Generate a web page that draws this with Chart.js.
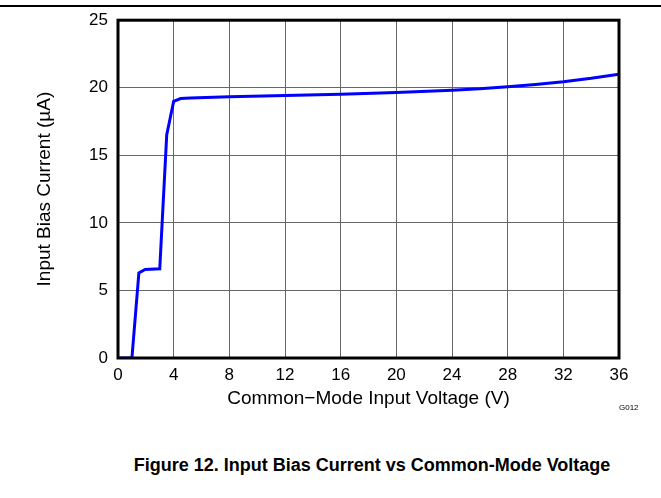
<!DOCTYPE html>
<html lang="en">
<head>
  <meta charset="UTF-8" />
  <title>Input Bias Current vs Common-Mode Voltage</title>
  <script src="https://cdn.jsdelivr.net/npm/chart.js"></script>
  <style>
    body {
      margin: 0;
      background: #fff;
      font-family: "Liberation Sans", Arial, sans-serif;
      overflow: hidden;
    }
    .page {
      position: relative;
      width: 661px;
      height: 498px;
    }
    .rule {
      position: absolute;
      left: 0;
      top: 5px;
      width: 661px;
      height: 2px;
      background: #000;
    }
    .box {
      position: absolute;
      left: 0;
      top: 0;
      width: 661px;
      height: 420px;
    }
    .code {
      position: absolute;
      left: 619px;
      top: 403px;
      font-size: 8px;
      color: #000;
    }
    .caption {
      position: absolute;
      left: 72px;
      width: 600px;
      top: 454px;
      text-align: center;
      font-size: 18px;
      line-height: 22px;
      font-weight: bold;
      color: #000;
    }
  </style>
</head>
<body>
<div class="page">
  <div class="rule"></div>
  <div class="box"><canvas id="chart"></canvas></div>
  <div class="code">G012</div>
  <div class="caption">Figure 12. Input Bias Current vs Common-Mode Voltage</div>
</div>

<script>
// values
const voltage = [0, 1.0, 1.5, 1.95, 3.0, 3.5, 4.0, 4.5, 5.2, 8, 12, 16, 20, 24, 26, 28, 30, 32, 34, 36];
const biasCurrent = [0, 0, 6.3, 6.55, 6.6, 16.5, 19.0, 19.2, 19.25, 19.33, 19.42, 19.52, 19.65, 19.82, 19.92, 20.07, 20.25, 20.45, 20.7, 21.0];

const xTicks = [0, 4, 8, 12, 16, 20, 24, 28, 32, 36];
const yTicks = [0, 5, 10, 15, 20, 25];

const family = '"Liberation Sans", Arial, sans-serif';
const tickFont = { family, size: 17 };
const titleFont = { family, size: 19 };

// black frame round the plot area
const frame = {
  id: 'frame',
  afterDraw(chart) {
    const { ctx, chartArea: a } = chart;
    ctx.save();
    ctx.strokeStyle = '#000';
    ctx.lineWidth = 3;
    ctx.strokeRect(a.left, a.top, a.right - a.left, a.bottom - a.top);
    ctx.restore();
  }
};

new Chart(document.getElementById('chart'), {
  type: 'line',
  data: {
    datasets: [{
      data: voltage.map((v, i) => ({ x: v, y: biasCurrent[i] })),
      borderColor: '#0000ff',
      borderWidth: 3,
      pointRadius: 0,
      tension: 0,
      fill: false
    }]
  },
  options: {
    responsive: true,
    maintainAspectRatio: false,
    animation: false,
    layout: { padding: { left: 0, top: 20, right: 42, bottom: 0 } },
    plugins: { legend: { display: false }, tooltip: { enabled: false } },
    scales: {
      x: {
        type: 'linear',
        min: 0,
        max: 36,
        afterBuildTicks: s => { s.ticks = xTicks.map(v => ({ value: v })); },
        afterFit: s => { s.height = 62; },
        ticks: { color: '#000', font: tickFont, padding: 7, maxRotation: 0 },
        grid: { color: '#666', lineWidth: 1, drawTicks: false },
        border: { display: false },
        title: {
          display: true,
          text: 'Common\u2212Mode Input Voltage (V)',
          color: '#000',
          font: titleFont,
          padding: { top: 0, bottom: 10 }
        }
      },
      y: {
        min: 0,
        max: 25,
        afterBuildTicks: s => { s.ticks = yTicks.map(v => ({ value: v })); },
        afterFit: s => { s.width = 118; },
        ticks: { color: '#000', font: tickFont, padding: 10 },
        grid: { color: '#666', lineWidth: 1, drawTicks: false },
        border: { display: false },
        title: {
          display: true,
          text: 'Input Bias Current (\u00b5A)',
          color: '#000',
          font: titleFont,
          padding: { top: 33, bottom: 0 }
        }
      }
    }
  },
  plugins: [frame]
});
</script>
</body>
</html>
